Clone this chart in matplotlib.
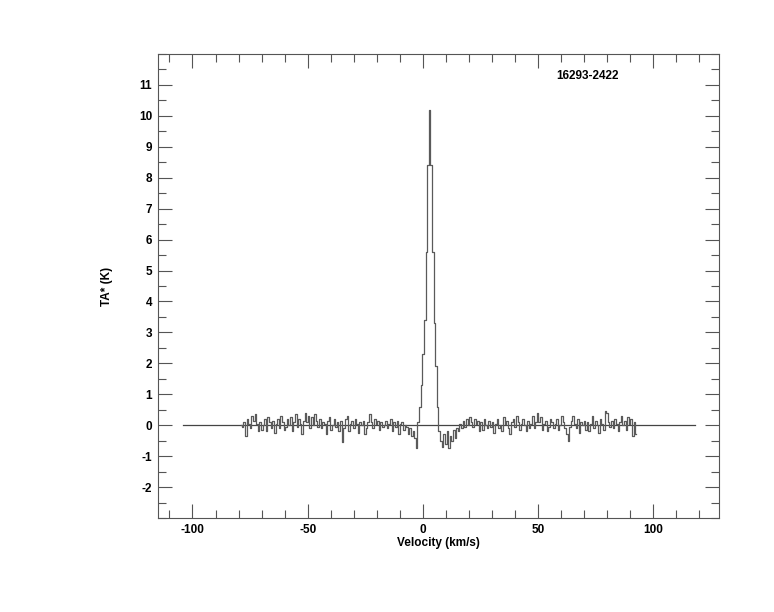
import numpy as np
import matplotlib
matplotlib.use("Agg")
import matplotlib.pyplot as plt
from matplotlib.ticker import MultipleLocator

matplotlib.rcParams.update(
    {
        "font.family": ["Liberation Sans Narrow", "Liberation Sans", "DejaVu Sans"],
        "font.size": 8.5,
        "font.weight": "bold",
        "axes.unicode_minus": False,
    }
)

# channel grid of the spectrum (km/s)
v_start = -79.0
v_step = 0.7

# antenna temperature per channel (K)
ta = [
    0.0, -0.05, 0.1, -0.35, 0.2, 0.05, -0.1, 0.3, 0.15, 0.35,
    0.05, -0.2, 0.1, -0.15, 0.0, 0.2, -0.2, 0.25, 0.1, -0.1,
    0.15, -0.25, 0.05, 0.2, -0.1, 0.3, 0.1, -0.15, -0.05, 0.2,
    0.0, 0.25, -0.2, 0.1, 0.35, -0.05, 0.2, 0.05, -0.3, 0.15,
    0.4, 0.1, 0.3, -0.1, 0.25, 0.0, 0.35, 0.15, -0.05, 0.2,
    -0.1, 0.1, 0.05, -0.3, 0.15, 0.25, -0.15, 0.0, 0.2, -0.05,
    0.1, -0.2, 0.15, -0.55, -0.1, 0.2, 0.3, -0.2, 0.05, 0.15,
    -0.1, 0.2, 0.05, -0.25, 0.1, 0.0, 0.15, -0.3, -0.1, 0.1,
    0.35, 0.1, -0.1, 0.2, 0.05, 0.15, -0.15, 0.1, -0.05, 0.0,
    0.15, -0.1, 0.05, 0.2, -0.2, 0.1, -0.05, 0.15, -0.3, 0.05,
    0.1, -0.15, 0.0, -0.05, -0.3, -0.1, -0.35, -0.2, -0.4, -0.75,
    0.1, 0.6, 1.3, 2.3, 3.4, 5.6, 8.4, 10.2, 8.4, 5.6, 3.3, 1.9, 0.6, -0.2, -0.5,
    -0.7, -0.3, -0.6, -0.2, -0.75, -0.35, -0.5, -0.15, -0.4, -0.1,
    -0.2, 0.05, -0.1, 0.15, -0.05, 0.2, 0.0, 0.25, 0.1, -0.05,
    0.2, 0.05, 0.15, -0.2, 0.1, -0.15, 0.2, 0.0, -0.1, 0.15,
    -0.05, 0.1, -0.25, 0.05, 0.2, -0.1, 0.0, -0.2, 0.25, 0.05,
    0.15, -0.1, -0.3, 0.1, 0.2, -0.05, 0.3, 0.1, -0.15, 0.05,
    0.2, 0.0, -0.2, 0.15, -0.1, 0.05, 0.3, -0.1, 0.1, 0.4,
    0.1, 0.25, -0.15, 0.05, 0.15, -0.2, -0.05, 0.2, 0.1, -0.1,
    0.05, 0.2, -0.15, 0.0, 0.3, 0.1, -0.1, -0.3, -0.5, -0.05,
    0.15, 0.3, 0.05, -0.1, 0.2, -0.25, 0.1, 0.0, 0.15, -0.15,
    0.1, -0.2, 0.05, 0.3, -0.1, 0.15, 0.0, -0.25, 0.2, 0.05,
    -0.15, 0.45, 0.4, 0.1, -0.05, 0.15, -0.1, 0.2, 0.05, -0.2,
    0.1, 0.3, 0.0, 0.15, -0.15, 0.25, 0.05, 0.2, -0.35, 0.1, -0.3,
]

baseline_range = [-104, 118]
source_name = "16293-2422"

velocity = v_start + v_step * np.arange(len(ta))

fig = plt.figure(figsize=(7.74, 6.12), dpi=100)
ax = fig.add_axes([0.204, 0.1536, 0.725, 0.7582])

ax.plot(baseline_range, [0, 0], color="#444444", lw=0.9)
ax.step(velocity, ta, where="mid", color="#5a5a5a", lw=0.9)

ax.set_xlim(-115, 128.5)
ax.set_ylim(-3, 12)
ax.xaxis.set_major_locator(MultipleLocator(50))
ax.xaxis.set_minor_locator(MultipleLocator(10))
ax.yaxis.set_minor_locator(MultipleLocator(0.5))
ax.set_yticks(np.arange(-2, 12, 1))

ax.tick_params(which="both", direction="in", top=True, right=True, color="#555555", width=0.8)
ax.tick_params(which="major", length=10, pad=4)
ax.tick_params(which="minor", length=6)
for s in ax.spines.values():
    s.set_color("#555555")
    s.set_linewidth(0.8)

ax.set_xlabel("Velocity (km/s)", fontweight="bold", labelpad=1)
ax.set_ylabel("TA* (K)", fontweight="bold")
ax.yaxis.set_label_coords(-0.08, 0.5)

ax.text(0.766, 0.952, source_name, transform=ax.transAxes, ha="center", va="center", fontweight="bold")

fig.savefig("out.png", dpi=100)
